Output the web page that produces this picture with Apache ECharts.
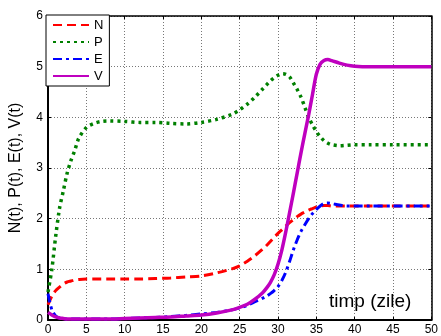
<!DOCTYPE html>
<html>
<head>
<meta charset="utf-8">
<script src="https://cdn.jsdelivr.net/npm/echarts@6/dist/echarts.min.js"></script>
<style>
html, body { margin: 0; padding: 0; background: #fff; }
#chart { width: 441px; height: 336px; }
</style>
</head>
<body>
<div id="chart"></div>
<script>
// timp (zile)
var timp = [0, 0.5, 1, 1.5, 2, 2.5, 3, 3.5, 4, 5, 6, 7, 8, 10, 12, 14, 16, 18, 20, 22, 24, 25, 26, 27, 28, 28.5, 29, 29.5,
            30, 30.5, 31, 31.5, 32, 32.5, 33, 33.5, 34, 34.5, 35, 35.5, 36, 36.5, 37, 38, 39, 40, 42, 45, 50];
var valN = [0.3, 0.47, 0.58, 0.65, 0.71, 0.75, 0.77, 0.79, 0.8, 0.81, 0.81, 0.81, 0.81, 0.81, 0.81, 0.82, 0.83, 0.85, 0.87, 0.93, 1.01, 1.07, 1.16, 1.27, 1.4, 1.47, 1.55, 1.63,
            1.71, 1.78, 1.85, 1.92, 1.98, 2.04, 2.09, 2.13, 2.17, 2.2, 2.23, 2.25, 2.26, 2.26, 2.25, 2.25, 2.25, 2.25, 2.25, 2.25, 2.25];
var valP = [0.55, 1.0, 1.65, 2.2, 2.55, 2.9, 3.15, 3.35, 3.58, 3.8, 3.88, 3.92, 3.93, 3.92, 3.9, 3.9, 3.88, 3.87, 3.9, 3.96, 4.06, 4.15, 4.26, 4.4, 4.56, 4.64, 4.72, 4.78,
            4.83, 4.86, 4.85, 4.8, 4.68, 4.55, 4.4, 4.2, 4.0, 3.85, 3.72, 3.62, 3.54, 3.49, 3.46, 3.44, 3.45, 3.46, 3.46, 3.46, 3.46];
var valE = [0.52, 0.2, 0.08, 0.04, 0.03, 0.02, 0.02, 0.02, 0.02, 0.02, 0.02, 0.02, 0.02, 0.03, 0.04, 0.05, 0.07, 0.09, 0.12, 0.15, 0.2, 0.24, 0.29, 0.36, 0.43, 0.47, 0.52, 0.58,
            0.66, 0.78, 0.94, 1.15, 1.38, 1.58, 1.75, 1.88, 2.0, 2.1, 2.18, 2.25, 2.3, 2.31, 2.3, 2.27, 2.25, 2.25, 2.25, 2.25, 2.25];
var valV = [0.15, 0.1, 0.06, 0.04, 0.03, 0.02, 0.02, 0.02, 0.02, 0.02, 0.02, 0.02, 0.02, 0.03, 0.04, 0.05, 0.06, 0.08, 0.1, 0.14, 0.2, 0.25, 0.31, 0.41, 0.54, 0.63, 0.74, 0.89,
            1.1, 1.38, 1.73, 2.11, 2.5, 2.9, 3.3, 3.68, 4.05, 4.45, 4.85, 5.05, 5.12, 5.14, 5.12, 5.07, 5.03, 5.01, 5.0, 5.0, 5.0];

var chart = echarts.init(document.getElementById('chart'));

function pairs(vals) {
    return timp.map(function (t, i) { return [t, vals[i]]; });
}

var font = 'Liberation Sans, Arial, sans-serif';
var gridLine = { show: true, lineStyle: { color: '#777', type: [1, 2], width: 1 } };

function mkLine(name, vals, color, type, width) {
    return {
        name: name,
        type: 'line',
        xAxisIndex: 0,
        yAxisIndex: 0,
        data: pairs(vals),
        showSymbol: false,
        symbol: 'none',
        smooth: 0.3,
        lineStyle: { color: color, width: width, type: type, cap: 'butt' },
        itemStyle: { color: color },
        animation: false
    };
}

var option = {
    animation: false,
    textStyle: { fontFamily: font },
    grid: { left: 46, right: 5, top: 16, bottom: 13, containLabel: false },
    legend: {
        orient: 'vertical',
        left: 46,
        top: 15,
        itemWidth: 36,
        itemHeight: 10,
        itemGap: 3,
        padding: [3, 6, 3, 6],
        backgroundColor: '#fff',
        borderColor: '#000',
        borderWidth: 1,
        borderRadius: 0,
        itemStyle: { opacity: 0 },
        textStyle: { fontFamily: font, fontSize: 13, lineHeight: 14, color: '#000' },
        data: ['N', 'P', 'E', 'V']
    },
    xAxis: [
        {
            type: 'value', min: 0, max: 50, interval: 5, position: 'bottom',
            axisLine: { show: true, lineStyle: { color: '#000', width: 2 } },
            axisTick: { show: true, inside: true, length: 3, lineStyle: { color: '#000' } },
            axisLabel: { color: '#000', fontSize: 12, margin: 4, fontFamily: font },
            splitLine: gridLine
        },
        {
            type: 'value', min: 0, max: 50, interval: 5, position: 'top',
            axisLine: { show: true, onZero: false, lineStyle: { color: '#000', width: 1.5 } },
            axisTick: { show: true, inside: true, length: 3, lineStyle: { color: '#000' } },
            axisLabel: { show: false },
            splitLine: { show: false }
        }
    ],
    yAxis: [
        {
            type: 'value', min: 0, max: 6, interval: 1, position: 'left',
            name: 'N(t), P(t), E(t), V(t)',
            nameLocation: 'middle',
            nameGap: 24,
            nameTextStyle: { fontSize: 16, color: '#000', fontFamily: font },
            axisLine: { show: true, lineStyle: { color: '#000', width: 2 } },
            axisTick: { show: true, inside: true, length: 3, lineStyle: { color: '#000' } },
            axisLabel: { color: '#000', fontSize: 12, margin: 5, fontFamily: font },
            splitLine: gridLine
        },
        {
            type: 'value', min: 0, max: 6, interval: 1, position: 'right',
            axisLine: { show: true, onZero: false, lineStyle: { color: '#000', width: 1.5 } },
            axisTick: { show: true, inside: true, length: 3, lineStyle: { color: '#000' } },
            axisLabel: { show: false },
            splitLine: { show: false }
        }
    ],
    graphic: [
        {
            type: 'text', left: 329, top: 292, z: 10,
            style: { text: 'timp (zile)', font: '19px Liberation Sans, Arial, sans-serif', fill: '#000' }
        }
    ],
    series: [
        mkLine('N', valN, '#ff0000', [9, 5], 3),
        mkLine('P', valP, '#008000', [3, 4], 3.5),
        mkLine('E', valE, '#0000ff', [9, 4, 3, 4], 3),
        mkLine('V', valV, '#bf00bf', 'solid', 3.5)
    ]
};

chart.setOption(option);
</script>
</body>
</html>
